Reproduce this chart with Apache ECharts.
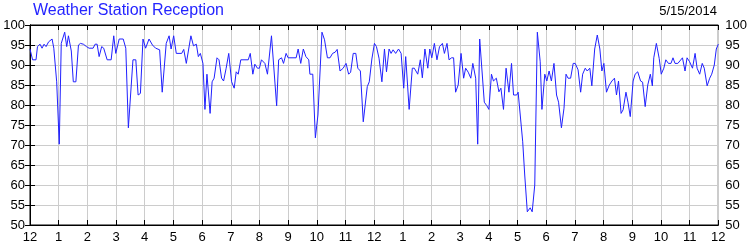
<!DOCTYPE html>
<html>
<head>
<meta charset="utf-8">
<script src="https://cdn.jsdelivr.net/npm/echarts@6/dist/echarts.min.js"></script>
<style>
html,body{margin:0;padding:0;background:#fff;}
#chart{width:750px;height:250px;}
</style>
</head>
<body>
<div id="chart"></div>
<script>
var chartTitle = 'Weather Station Reception';
var chartDate = '5/15/2014';
var hourLabels = ['12','1','2','3','4','5','6','7','8','9','10','11','12','1','2','3','4','5','6','7','8','9','10','11','12'];
var times = [
0.00,0.09,0.21,0.26,0.35,0.42,0.49,0.56,0.65,0.77,0.83,0.93,1.02,1.09,1.21,1.28,1.34,1.44,1.51,1.60,1.69,1.76,1.86,1.97,
2.06,2.20,2.27,2.34,2.41,2.50,2.57,2.69,2.83,2.92,2.99,3.11,3.25,3.34,3.43,3.59,3.69,3.77,3.85,3.94,
4.03,4.15,4.27,4.38,4.52,4.61,4.75,4.85,4.92,5.01,5.10,5.29,5.36,5.45,5.61,5.70,5.80,5.87,5.94,6.03,6.10,
6.17,6.28,6.35,6.42,6.52,6.59,6.68,6.75,6.84,6.93,7.03,7.12,7.19,7.26,7.35,7.61,7.68,7.77,7.84,7.93,
8.00,8.07,8.19,8.28,8.42,8.60,8.67,8.77,8.84,8.93,9.00,9.28,9.35,9.44,9.53,9.62,9.72,9.76,9.86,9.95,
10.04,10.18,10.27,10.37,10.46,10.55,10.64,10.71,10.81,10.92,11.02,11.11,11.18,11.27,11.36,11.43,11.52,11.62,11.66,11.76,11.83,11.92,
12.01,12.08,12.17,12.27,12.36,12.43,12.52,12.59,12.66,12.75,12.85,12.94,13.03,13.10,13.22,13.33,13.40,13.52,13.61,13.68,13.77,13.87,13.94,
14.01,14.10,14.19,14.28,14.38,14.45,14.54,14.61,14.70,14.77,14.84,14.93,15.03,15.12,15.19,15.28,15.37,15.44,15.54,15.61,15.68,15.84,15.93,
16.00,16.09,16.16,16.26,16.35,16.42,16.51,16.60,16.70,16.79,16.86,16.97,17.02,17.18,17.25,17.34,17.44,17.51,17.60,17.69,17.79,17.85,17.95,
18.02,18.10,18.18,18.27,18.36,18.43,18.53,18.62,18.69,18.76,18.85,18.94,19.01,19.11,19.20,19.27,19.36,19.43,19.52,19.59,19.69,19.78,19.87,19.94,
20.01,20.10,20.20,20.29,20.38,20.45,20.52,20.61,20.68,20.78,20.85,20.93,21.03,21.10,21.19,21.29,21.36,21.45,21.54,21.63,21.70,21.75,21.84,21.94,
22.01,22.10,22.17,22.26,22.35,22.42,22.49,22.59,22.75,22.84,22.91,23.00,23.10,23.19,23.26,23.35,23.44,23.51,23.61,23.70,23.77,23.86,23.93,24.00
];
var values = [
94.0,91.3,91.3,94.6,95.2,94.2,95.2,94.6,95.8,96.5,94.2,85.8,70.2,95.4,98.2,94.6,97.3,93.5,85.8,85.8,95.0,95.4,95.2,94.6,
94.2,94.2,95.2,95.2,92.1,94.6,94.2,91.3,91.3,97.3,92.9,96.5,96.5,94.2,74.3,91.3,91.3,82.5,82.9,96.5,
94.2,96.5,95.0,94.2,93.8,83.2,95.4,97.3,94.0,97.3,92.9,92.9,93.9,90.4,97.3,94.8,95.2,92.1,92.9,90.4,78.9,
87.7,77.9,85.8,86.7,91.8,91.3,86.7,86.0,89.2,92.9,85.8,84.2,88.3,87.7,91.3,91.3,92.9,87.7,90.2,89.2,
89.2,91.3,90.4,87.7,97.3,79.8,91.3,91.8,90.4,92.9,91.8,91.8,94.0,90.4,94.0,92.1,91.3,87.7,87.7,71.8,
77.5,98.2,96.3,91.8,91.8,92.9,93.2,93.9,88.5,89.2,90.4,87.7,88.2,92.9,92.9,89.2,88.5,75.8,75.4,84.6,85.8,91.5,
95.4,94.6,91.7,85.8,94.0,88.3,94.0,92.9,93.8,92.9,94.0,92.9,84.2,92.1,78.9,89.2,89.2,87.7,91.3,86.8,94.0,89.2,94.0,
91.8,95.4,91.3,94.6,95.4,92.9,95.4,91.3,91.8,91.8,83.2,85.0,92.9,86.7,89.2,88.2,86.7,90.4,86.7,70.2,96.5,80.7,79.8,
78.9,87.7,86.0,86.7,83.3,84.2,78.9,89.2,83.2,90.4,82.5,82.5,83.2,70.8,62.5,53.3,54.3,53.3,60.0,98.2,90.8,78.9,87.7,
86.0,88.5,86.0,90.4,82.5,80.7,74.3,79.2,87.7,86.7,86.7,90.4,90.4,88.8,83.2,87.7,89.2,88.5,89.2,84.8,94.0,97.5,94.0,88.5,
90.4,83.2,85.0,86.0,86.7,82.5,86.0,77.9,78.8,83.2,80.7,77.1,86.0,87.7,88.3,86.0,85.7,79.6,85.0,87.7,84.8,91.8,95.4,91.6,
87.7,89.2,91.3,90.4,90.4,91.8,90.4,90.4,91.8,88.5,91.8,90.8,89.2,92.9,89.2,87.7,90.4,89.2,84.8,86.7,87.7,90.0,94.0,95.2
];

var seriesData = times.map(function (t, i) { return [t, values[i]]; });

var chart = echarts.init(document.getElementById('chart'), null, {renderer: 'canvas'});
var font = 'Arial, "Liberation Sans", sans-serif';
var yAxisCommon = {
  type: 'value', min: 50, max: 100, interval: 5,
  axisLine: {show: true, lineStyle: {color: '#000', width: 1}},
  axisTick: {show: true, inside: true, length: 5, lineStyle: {color: '#000'}},
  splitLine: {show: true, lineStyle: {color: '#cccccc', width: 1}},
  axisLabel: {color: '#000', fontSize: 13, fontFamily: font}
};
chart.setOption({
  animation: false,
  backgroundColor: '#fff',
  title: [
    {text: chartTitle, left: 33, top: 3, padding: 0, textStyle: {color: '#2424ff', fontSize: 16, fontWeight: 'normal', fontFamily: font}},
    {text: chartDate, right: 33, top: 5, padding: 0, textStyle: {color: '#000', fontSize: 13, fontWeight: 'normal', fontFamily: font}}
  ],
  grid: {left: 30, right: 30, top: 25, bottom: 25, show: true, borderColor: '#000', borderWidth: 1, containLabel: false},
  xAxis: [{
    type: 'value', min: 0, max: 24, interval: 1, position: 'bottom',
    axisLine: {show: true, onZero: false, lineStyle: {color: '#000', width: 1}},
    axisTick: {show: true, inside: true, length: 5, lineStyle: {color: '#000'}},
    splitLine: {show: true, lineStyle: {color: '#cccccc', width: 1}},
    axisLabel: {color: '#000', fontSize: 13, fontFamily: font, margin: 6,
      formatter: function (v) { return hourLabels[Math.round(v)]; }}
  }, {
    type: 'value', min: 0, max: 24, interval: 1, position: 'top',
    axisLine: {show: true, onZero: false, lineStyle: {color: '#000', width: 1}},
    axisTick: {show: true, inside: true, length: 5, lineStyle: {color: '#000'}},
    splitLine: {show: false},
    axisLabel: {show: false}
  }],
  yAxis: [
    Object.assign({}, yAxisCommon, {position: 'left', axisLabel: Object.assign({}, yAxisCommon.axisLabel, {margin: 5})}),
    Object.assign({}, yAxisCommon, {position: 'right', splitLine: {show: false}, axisLabel: Object.assign({}, yAxisCommon.axisLabel, {margin: 7})})
  ],
  series: [{
    type: 'line', xAxisIndex: 0, yAxisIndex: 0,
    data: seriesData, showSymbol: false, symbol: 'none',
    lineStyle: {color: '#2020ff', width: 1},
    itemStyle: {color: '#2020ff'}
  }]
});
</script>
</body>
</html>
